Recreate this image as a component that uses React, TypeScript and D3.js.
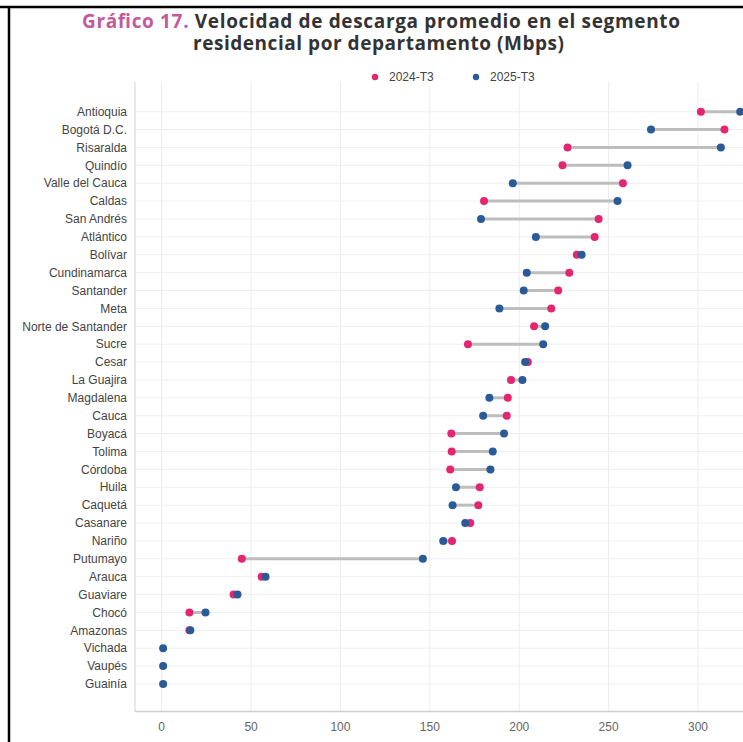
import React from "react";
import * as d3 from "d3";

const departments = [
  "Antioquia", "Bogotá D.C.", "Risaralda", "Quindío", "Valle del Cauca", "Caldas",
  "San Andrés", "Atlántico", "Bolívar", "Cundinamarca", "Santander", "Meta",
  "Norte de Santander", "Sucre", "Cesar", "La Guajira", "Magdalena", "Cauca",
  "Boyacá", "Tolima", "Córdoba", "Huila", "Caquetá", "Casanare", "Nariño",
  "Putumayo", "Arauca", "Guaviare", "Chocó", "Amazonas", "Vichada", "Vaupés", "Guainía",
];

const values2024: (number | null)[] = [
  301.6, 314.8, 227.0, 224.2, 258.0, 180.3,
  244.4, 242.2, 232.2, 228.0, 221.8, 217.9,
  208.3, 171.3, 204.8, 195.4, 193.6, 193.0,
  162.0, 162.2, 161.4, 177.9, 177.1, 172.6, 162.4,
  44.8, 55.9, 40.2, 15.5, 15.5, null, null, null,
];

const values2025: number[] = [
  323.6, 273.7, 312.8, 260.6, 196.4, 255.0,
  178.6, 209.3, 234.9, 204.2, 202.5, 188.9,
  214.5, 213.4, 203.3, 201.8, 183.3, 179.8,
  191.5, 185.2, 183.9, 164.6, 162.7, 169.8, 157.5,
  146.1, 58.1, 42.4, 24.5, 16.0, 0.8, 0.8, 0.8,
];

const xTicks = [0, 50, 100, 150, 200, 250, 300];
const seriesNames = ["2024-T3", "2025-T3"];

const PINK = "#e3266f";
const BLUE = "#2b5a98";

export default function App() {
  const W = 743;
  const H = 742;
  const plotLeft = 135;
  const plotTop = 82;
  const plotBottom = 711.5;
  const plotRight = 760;

  const x = d3.scaleLinear().domain([0, 300]).range([161.7, 698]);
  const y = d3.scalePoint<string>().domain(departments).range([111.7, 684]);

  const label = "Liberation Sans, Arial, sans-serif";
  const titleFont = "'Open Sans', 'Noto Sans', sans-serif";

  return (
    <svg
      width={W}
      height={H}
      style={{ position: "absolute", left: 0, top: 0, background: "#fff" }}
      fontFamily={label}
    >
      <rect x={0} y={0} width={W} height={H} fill="#fff" />
      {/* frame */}
      <line x1={0} x2={W} y1={7} y2={7} stroke="#000" strokeWidth={2.5} />
      <line x1={9} x2={9} y1={6} y2={H} stroke="#000" strokeWidth={2.5} />

      {/* title */}
      <text
        x={82}
        y={27.5}
        fontFamily={titleFont}
        fontWeight={700}
        fontSize={19}
        fill="#333"
        textLength={598}
        lengthAdjust="spacing"
      >
        <tspan fill="#c45a9c">Gráfico 17.</tspan>
        <tspan> Velocidad de descarga promedio en el segmento</tspan>
      </text>
      <text
        x={193}
        y={49.5}
        fontFamily={titleFont}
        fontWeight={700}
        fontSize={19}
        fill="#333"
        textLength={371}
        lengthAdjust="spacing"
      >
        residencial por departamento (Mbps)
      </text>

      {/* gridlines */}
      {xTicks.map((t) => (
        <line key={"vx" + t} x1={x(t)} x2={x(t)} y1={plotTop} y2={plotBottom} stroke="#ececec" strokeWidth={1} />
      ))}
      {departments.map((d) => (
        <line key={"hy" + d} x1={plotLeft} x2={plotRight} y1={y(d)} y2={y(d)} stroke="#efefef" strokeWidth={1} />
      ))}

      {/* axes */}
      <line x1={plotLeft} x2={plotLeft} y1={plotTop} y2={plotBottom} stroke="#d9d9d9" strokeWidth={1.2} />
      <line x1={plotLeft} x2={plotRight} y1={plotBottom} y2={plotBottom} stroke="#cfcfcf" strokeWidth={1.5} />

      {/* legend */}
      <rect x={365} y={68} width={190} height={18} fill="#fff" />
      <circle cx={375} cy={77} r={3.2} fill={PINK} />
      <text x={389} y={81} fontSize={12} fill="#444">{seriesNames[0]}</text>
      <circle cx={476} cy={77} r={3.2} fill={BLUE} />
      <text x={490} y={81} fontSize={12} fill="#444">{seriesNames[1]}</text>

      {/* y labels */}
      {departments.map((d) => (
        <text key={"yl" + d} x={127} y={(y(d) as number) + 4.2} textAnchor="end" fontSize={12} fill="#444">
          {d}
        </text>
      ))}

      {/* x tick labels */}
      {xTicks.map((t) => (
        <text key={"xl" + t} x={x(t)} y={731} textAnchor="middle" fontSize={12} fill="#666">
          {t}
        </text>
      ))}

      {/* dumbbells */}
      {departments.map((d, i) => {
        const a = values2024[i];
        const b = values2025[i];
        const yy = y(d) as number;
        return (
          <g key={"db" + d}>
            {a !== null && (
              <line x1={x(a)} x2={x(b)} y1={yy} y2={yy} stroke="#bdbdbd" strokeWidth={3} />
            )}
            {a !== null && <circle cx={x(a)} cy={yy} r={4} fill={PINK} />}
            <circle cx={x(b)} cy={yy} r={4} fill={BLUE} />
          </g>
        );
      })}
    </svg>
  );
}
